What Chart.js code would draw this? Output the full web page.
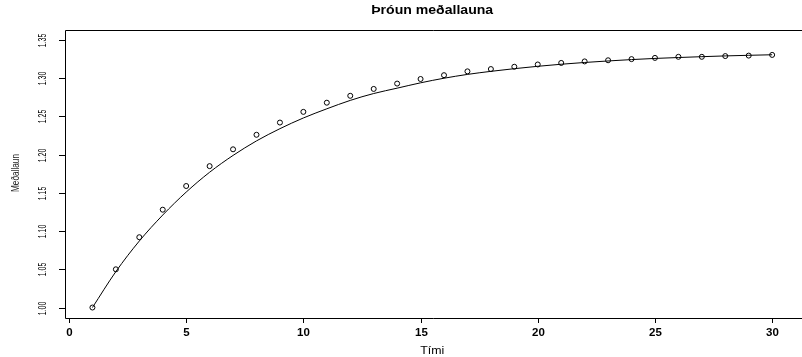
<!DOCTYPE html>
<html>
<head>
<meta charset="utf-8">
<script src="https://cdn.jsdelivr.net/npm/chart.js@4"></script>
<style>
  html, body { margin: 0; padding: 0; background: #fff; }
  canvas { display: block; }
</style>
</head>
<body>
<canvas id="launChart" width="802" height="357"></canvas>
<script>
// Data
const timi = [1, 2, 3, 4, 5, 6, 7, 8, 9, 10, 11, 12, 13, 14, 15,
              16, 17, 18, 19, 20, 21, 22, 23, 24, 25, 26, 27, 28, 29, 30];
const medallaun = [1.000, 1.050, 1.092, 1.128, 1.159, 1.185, 1.207, 1.226, 1.242, 1.256,
                   1.268, 1.277, 1.286, 1.293, 1.299, 1.304, 1.309, 1.312, 1.315, 1.318,
                   1.320, 1.322, 1.3235, 1.325, 1.3266, 1.328, 1.328, 1.329, 1.3296, 1.3305];
// fitted curve, read at each whole time step
const ferill = [1.000, 1.047, 1.087, 1.121, 1.151, 1.177, 1.199, 1.218, 1.234, 1.248,
                1.260, 1.271, 1.280, 1.287, 1.294, 1.300, 1.305, 1.309, 1.3125, 1.3156,
                1.3183, 1.3206, 1.3226, 1.3244, 1.3259, 1.3271, 1.3282, 1.3292, 1.330, 1.3307];
const xTicks = [0, 5, 10, 15, 20, 25, 30];
const yTicks = [1.00, 1.05, 1.10, 1.15, 1.20, 1.25, 1.30, 1.35];
const yTickLabels = ['1.00', '1.05', '1.10', '1.15', '1.20', '1.25', '1.30', '1.35'];

const titill = 'Þróun meðallauna';
const xTitill = 'Tími';
const yTitill = 'Meðallaun';

// draw text centred at (x, y), optionally stretched to a given width
function putText(ctx, txt, x, y, font, opts = {}) {
    ctx.save();
    ctx.translate(x, y);
    if (opts.rot) ctx.rotate(opts.rot);
    ctx.font = font;
    let sx = opts.sx || 1;
    if (opts.width) sx = opts.width / ctx.measureText(txt).width;
    ctx.scale(sx, 1);
    ctx.textAlign = 'center';
    ctx.textBaseline = 'middle';
    ctx.fillStyle = opts.color || '#000';
    ctx.fillText(txt, 0, 0);
    ctx.restore();
}

// R-style frame, ticks and labels
const rAxes = {
    id: 'rAxes',
    afterDraw(chart) {
        const { ctx, chartArea: a, scales: { x, y } } = chart;
        ctx.save();
        ctx.strokeStyle = '#000';
        ctx.lineWidth = 1;

        // box (right side runs off the picture)
        ctx.beginPath();
        ctx.moveTo(chart.width, a.top + 0.5);
        ctx.lineTo(a.left + 0.5, a.top + 0.5);
        ctx.lineTo(a.left + 0.5, a.bottom + 0.5);
        ctx.lineTo(chart.width, a.bottom + 0.5);
        ctx.stroke();

        // y ticks
        yTicks.forEach((v, i) => {
            const py = Math.round(y.getPixelForValue(v)) + 0.5;
            ctx.beginPath();
            ctx.moveTo(a.left - 6, py);
            ctx.lineTo(a.left, py);
            ctx.stroke();
            putText(ctx, yTickLabels[i], 43, py, '10.5px "Liberation Sans"', { rot: -Math.PI / 2, sx: 0.66 });
        });

        // x ticks
        xTicks.forEach(v => {
            const px = Math.round(x.getPixelForValue(v)) + 0.5;
            ctx.beginPath();
            ctx.moveTo(px, a.bottom);
            ctx.lineTo(px, a.bottom + 5);
            ctx.stroke();
            putText(ctx, String(v), px, 333, 'bold 10px "Liberation Sans"', { sx: 1.15 });
        });
        ctx.restore();

        const mid = (a.left + x.getPixelForValue(31.16)) / 2;
        putText(ctx, titill, mid, 11, 'bold 12px "Liberation Sans"', { width: 122 });
        putText(ctx, xTitill, mid, 351, '10px "Liberation Sans"', { width: 24 });
        putText(ctx, yTitill, 16, 173, '10px "Liberation Sans"', { rot: -Math.PI / 2, width: 38, color: '#222' });
    }
};

new Chart(document.getElementById('launChart').getContext('2d'), {
    type: 'scatter',
    data: {
        datasets: [
            {
                label: 'Meðallaun',
                data: timi.map((t, i) => ({ x: t, y: medallaun[i] })),
                showLine: false,
                pointStyle: 'circle',
                pointRadius: 2.5,
                pointBorderWidth: 1,
                borderColor: '#000',
                backgroundColor: 'rgba(0,0,0,0)'
            },
            {
                label: 'Ferill',
                data: timi.map((t, i) => ({ x: t, y: ferill[i] })),
                showLine: true,
                pointRadius: 0,
                borderColor: '#000',
                borderWidth: 1,
                cubicInterpolationMode: 'monotone'
            }
        ]
    },
    options: {
        responsive: false,
        animation: false,
        layout: { padding: { left: 65, top: 30, right: 0, bottom: 39 } },
        plugins: { legend: { display: false }, tooltip: { enabled: false } },
        scales: {
            x: { type: 'linear', display: false, min: -0.17, max: 31.06 },
            y: { type: 'linear', display: false, min: 0.9863, max: 1.3631 }
        }
    },
    plugins: [rAxes]
});
</script>
</body>
</html>
